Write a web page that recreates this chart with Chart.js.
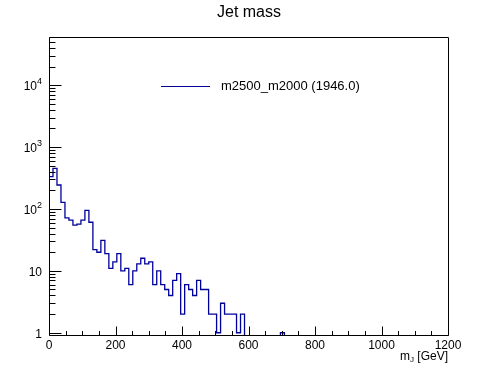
<!DOCTYPE html>
<html><head><meta charset="utf-8">
<script src="https://cdn.jsdelivr.net/npm/chart.js@4/dist/chart.umd.min.js"></script>
<style>html,body{margin:0;padding:0;background:#fff;} canvas{display:block;}</style>
</head><body>
<canvas id="c" width="498" height="374"></canvas>
<script>
const chartTitle = "Jet mass";
const seriesLabel = "m2500_m2000 (1946.0)";
const xAxisTitle = ["m", "J", " [GeV]"];
const binStart = 0;
const binWidth = 12;
const counts = [
  332, 453, 244, 128, 72, 66, 55, 57, 66, 95,
  61, 22, 20, 31, 19, 11, 14, 19, 10, 11,
  6, 10, 13, 16, 13, 14, 6, 10, 6, 5,
  4, 7, 9, 2, 6, 5, 4, 7, 5, 5,
  2, 2, 1, 3, 2, 2, 2, 1, 2, 0,
  0, 0, 0, 0, 0, 0, 0, 0, 1, 0,
  0, 0, 0, 0, 0, 0, 0, 0, 0, 0,
  0, 0, 0, 0, 0, 0, 0, 0, 0, 0,
  0, 0, 0, 0, 0, 0, 0, 0, 0, 0,
  0, 0, 0, 0, 0, 0, 0, 0, 0, 0
];
const xTickValues = [0, 200, 400, 600, 800, 1000, 1200];
const xTickLabels = ["0", "200", "400", "600", "800", "1000", "1200"];
const xMinorStep = 50;
const yTickValues = [1, 10, 100, 1000, 10000];
const yTickLabels = [["1", ""], ["10", ""], ["10", "2"], ["10", "3"], ["10", "4"]];
const xRange = [0, 1200];
const yRange = [0.92, 60000];
const lineColor = "#00009a";

// build stepped outline points (zero bins dropped below the visible range)
const floorVal = 0.01;
const pts = [{x: binStart, y: floorVal}];
counts.forEach((v, i) => pts.push({x: binStart + i * binWidth, y: v > 0 ? v : floorVal}));
pts.push({x: binStart + counts.length * binWidth, y: counts[counts.length - 1] > 0 ? counts[counts.length - 1] : floorVal});

const FONT = '"Liberation Sans", Arial, Helvetica, sans-serif';

const rootStyle = {
  id: 'rootStyle',
  afterDraw(chart) {
    const ctx = chart.ctx;
    const a = chart.chartArea;
    const xs = chart.scales.x, ys = chart.scales.y;
    ctx.save();
    ctx.strokeStyle = '#000';
    ctx.lineWidth = 1;
    // frame
    const L = Math.round(a.left) + 0.5, R = Math.round(a.right) + 0.5;
    const T = Math.round(a.top) + 0.5, B = Math.round(a.bottom) + 0.5;
    ctx.beginPath();
    ctx.rect(L, T, R - L, B - T);
    ctx.stroke();
    // x ticks
    ctx.beginPath();
    for (let v = xRange[0]; v <= xRange[1]; v += xMinorStep) {
      const px = Math.round(xs.getPixelForValue(v)) + 0.5;
      const major = xTickValues.includes(v);
      ctx.moveTo(px, B);
      ctx.lineTo(px, B - (major ? 9 : 4.5));
    }
    // y ticks
    for (let d = 1; d <= yRange[1]; d *= 10) {
      for (let k = 1; k <= 9; k++) {
        const v = d * k;
        if (v < yRange[0] || v > yRange[1]) continue;
        const py = Math.round(ys.getPixelForValue(v)) + 0.5;
        ctx.moveTo(L, py);
        ctx.lineTo(L + (k === 1 ? 12 : 6), py);
      }
    }
    ctx.stroke();
    // x tick labels
    ctx.fillStyle = '#000';
    ctx.font = '12px ' + FONT;
    ctx.textAlign = 'center';
    ctx.textBaseline = 'alphabetic';
    xTickValues.forEach((v, i) => {
      ctx.fillText(xTickLabels[i], xs.getPixelForValue(v), 349);
    });
    // y tick labels
    yTickValues.forEach((v, i) => {
      const py = ys.getPixelForValue(v);
      const [base, exp] = yTickLabels[i];
      const rightX = a.left - 7;
      ctx.font = '9px ' + FONT;
      const ew = exp ? ctx.measureText(exp).width : 0;
      ctx.font = '12px ' + FONT;
      ctx.textAlign = 'right';
      ctx.fillText(base, rightX - ew, py + 5);
      if (exp) {
        ctx.font = '9px ' + FONT;
        ctx.textAlign = 'left';
        ctx.fillText(exp, rightX - ew, py - 1);
      }
    });
    // x axis title: m_J [GeV], right aligned
    ctx.textAlign = 'left';
    ctx.font = '12px ' + FONT;
    const w0 = ctx.measureText(xAxisTitle[0]).width;
    const w2 = ctx.measureText(xAxisTitle[2]).width;
    ctx.font = '8px ' + FONT;
    const w1 = ctx.measureText(xAxisTitle[1]).width;
    let tx = a.right - (w0 + w1 + w2);
    const ty = 360;
    ctx.font = '12px ' + FONT;
    ctx.fillText(xAxisTitle[0], tx, ty);
    ctx.font = '8px ' + FONT;
    ctx.fillText(xAxisTitle[1], tx + w0, ty + 2);
    ctx.font = '12px ' + FONT;
    ctx.fillText(xAxisTitle[2], tx + w0 + w1, ty);
    // title
    ctx.font = '16px ' + FONT;
    ctx.textAlign = 'center';
    ctx.textBaseline = 'middle';
    ctx.fillText(chartTitle, 249, 13);
    // legend
    ctx.strokeStyle = lineColor;
    ctx.lineWidth = 1;
    ctx.beginPath();
    ctx.moveTo(161, 86.5);
    ctx.lineTo(210, 86.5);
    ctx.stroke();
    ctx.font = '13px ' + FONT;
    ctx.textAlign = 'left';
    ctx.textBaseline = 'middle';
    ctx.fillText(chart.data.datasets[0].label, 221, 86);
    ctx.restore();
  }
};

new Chart(document.getElementById('c'), {
  type: 'line',
  data: {
    datasets: [{
      label: seriesLabel,
      data: pts,
      stepped: 'before',
      borderColor: lineColor,
      borderWidth: 1.3,
      pointRadius: 0,
      fill: false,
      tension: 0,
      clip: 0
    }]
  },
  options: {
    responsive: false,
    animation: false,
    events: [],
    layout: {padding: {left: 49, right: 50, top: 37, bottom: 39}},
    plugins: {legend: {display: false}, title: {display: false}, tooltip: {enabled: false}},
    scales: {
      x: {type: 'linear', min: xRange[0], max: xRange[1], display: false},
      y: {type: 'logarithmic', min: yRange[0], max: yRange[1], display: false}
    }
  },
  plugins: [rootStyle]
});
</script>
</body></html>
